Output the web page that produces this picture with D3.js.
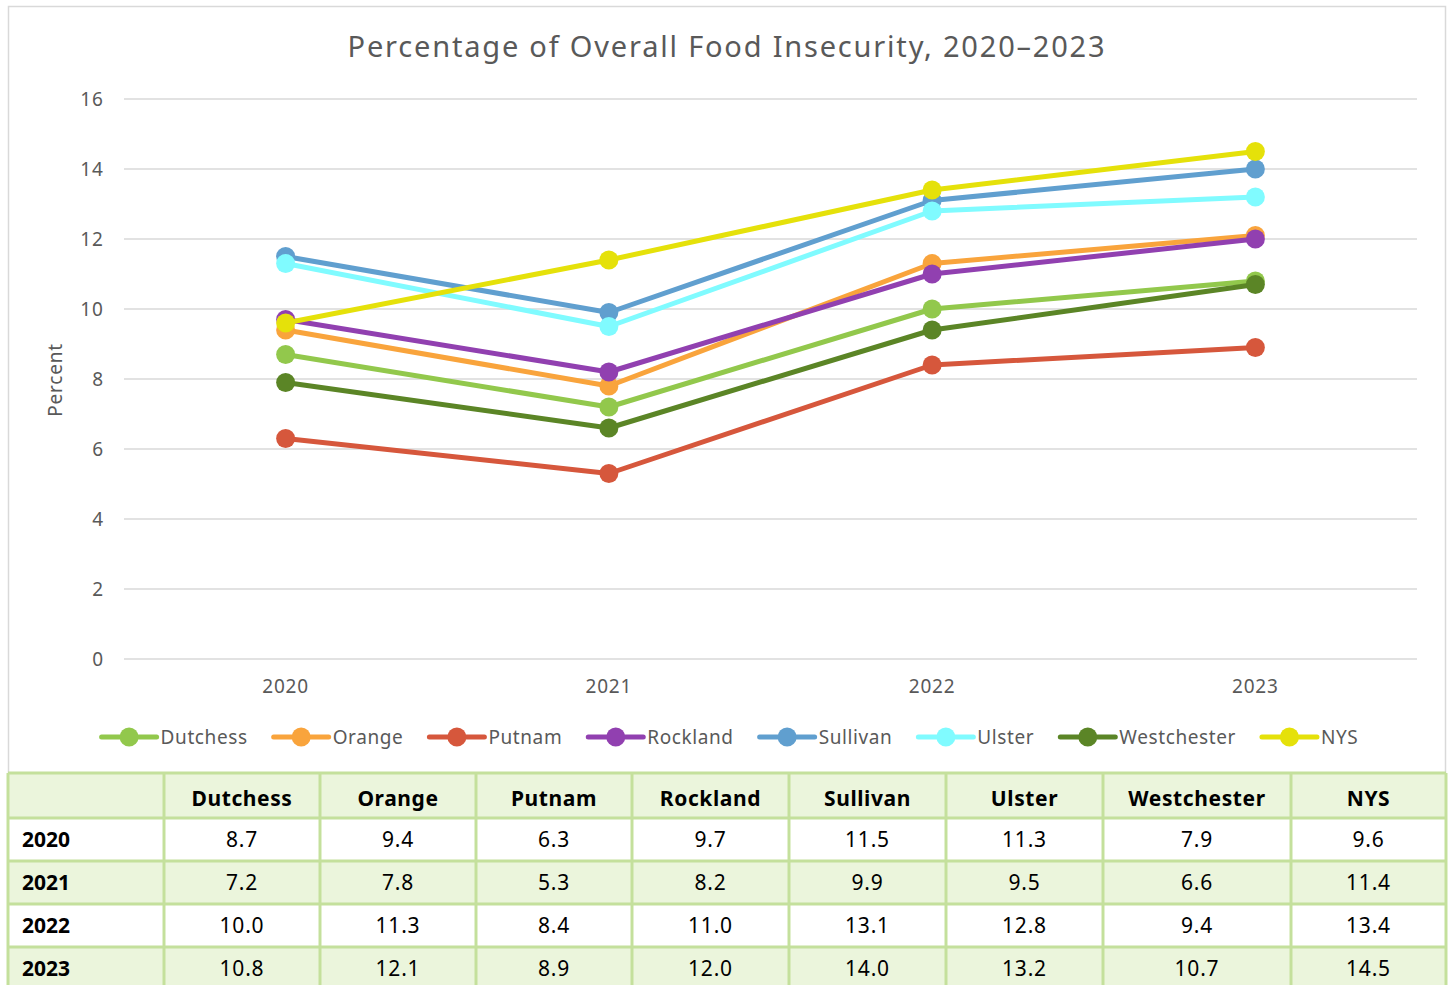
<!DOCTYPE html>
<html>
<head>
<meta charset="utf-8">
<script src="https://cdn.jsdelivr.net/npm/d3@7/dist/d3.min.js"></script>
<style>
  body { margin: 0; background: #fff; }
  svg { display: block; font-family: "Noto Sans", "Open Sans", sans-serif; }
</style>
</head>
<body>
<svg id="chart" width="1450" height="985"></svg>
<script>
// Years on the category axis
const years = ["2020", "2021", "2022", "2023"];

// Counties plus the state total
const regions = ["Dutchess", "Orange", "Putnam", "Rockland", "Sullivan", "Ulster", "Westchester", "NYS"];

// One value per year for each region
const dutchess = [8.7, 7.2, 10.0, 10.8];
const orange = [9.4, 7.8, 11.3, 12.1];
const putnam = [6.3, 5.3, 8.4, 8.9];
const rockland = [9.7, 8.2, 11.0, 12.0];
const sullivan = [11.5, 9.9, 13.1, 14.0];
const ulster = [11.3, 9.5, 12.8, 13.2];
const westchester = [7.9, 6.6, 9.4, 10.7];
const nys = [9.6, 11.4, 13.4, 14.5];

const yTicks = [0, 2, 4, 6, 8, 10, 12, 14, 16];

const colors = ["#92c84c", "#f9a43c", "#d6573c", "#9140b0", "#609fcf", "#80fbff", "#5b8526", "#e5e10a"];

const series = regions.map((name, i) => ({
  name,
  color: colors[i],
  values: [dutchess, orange, putnam, rockland, sullivan, ulster, westchester, nys][i]
}));

const svg = d3.select("#chart");
const textColor = "#595959";

// Chart frame
svg.append("rect")
  .attr("x", 8.5).attr("y", 6.5)
  .attr("width", 1437).attr("height", 780)
  .attr("fill", "#fff")
  .attr("stroke", "#d9d9d9").attr("stroke-width", 1.5);

// Title
svg.append("text")
  .attr("x", 727).attr("y", 57)
  .attr("text-anchor", "middle")
  .attr("font-size", 29)
  .attr("letter-spacing", 1.8)
  .attr("fill", textColor)
  .text("Percentage of Overall Food Insecurity, 2020\u20132023");

// Scales
const x = d3.scaleBand().domain(years).range([124, 1417]);
const y = d3.scaleLinear().domain([0, 16]).range([659, 99]);
const cx = (d) => x(d) + x.bandwidth() / 2;

// Gridlines
svg.append("g")
  .selectAll("line")
  .data(yTicks)
  .join("line")
  .attr("x1", 124).attr("x2", 1417)
  .attr("y1", (d) => y(d)).attr("y2", (d) => y(d))
  .attr("stroke", "#d9d9d9").attr("stroke-width", 1.5);

// Y axis labels
svg.append("g")
  .selectAll("text")
  .data(yTicks)
  .join("text")
  .attr("x", 104).attr("y", (d) => y(d))
  .attr("dy", "0.35em")
  .attr("text-anchor", "end")
  .attr("font-size", 19)
  .attr("letter-spacing", 1)
  .attr("fill", textColor)
  .text((d) => d);

// X axis labels
svg.append("g")
  .selectAll("text")
  .data(years)
  .join("text")
  .attr("x", (d) => cx(d)).attr("y", 686)
  .attr("dy", "0.35em")
  .attr("text-anchor", "middle")
  .attr("font-size", 19)
  .attr("letter-spacing", 0.8)
  .attr("fill", textColor)
  .text((d) => d);

// Y axis title
svg.append("text")
  .attr("transform", "translate(62,380) rotate(-90)")
  .attr("text-anchor", "middle")
  .attr("font-size", 19)
  .attr("letter-spacing", 0.8)
  .attr("fill", textColor)
  .text("Percent");

// Lines and markers
const line = d3.line()
  .x((d, i) => cx(years[i]))
  .y((d) => y(d));

const groups = svg.append("g")
  .selectAll("g")
  .data(series)
  .join("g");

groups.append("path")
  .attr("d", (d) => line(d.values))
  .attr("fill", "none")
  .attr("stroke", (d) => d.color)
  .attr("stroke-width", 5)
  .attr("stroke-linejoin", "round");

groups.selectAll("circle")
  .data((d) => d.values.map((v, i) => ({ v, i, color: d.color })))
  .join("circle")
  .attr("cx", (d) => cx(years[d.i]))
  .attr("cy", (d) => y(d.v))
  .attr("r", 9.5)
  .attr("fill", (d) => d.color);

// Legend
const legend = svg.append("g");
const items = legend.selectAll("g")
  .data(series)
  .join("g");

items.append("line")
  .attr("x1", 0).attr("x2", 55)
  .attr("y1", 0).attr("y2", 0)
  .attr("stroke", (d) => d.color)
  .attr("stroke-width", 5)
  .attr("stroke-linecap", "round");

items.append("circle")
  .attr("cx", 27.5).attr("cy", 0).attr("r", 9.5)
  .attr("fill", (d) => d.color);

items.append("text")
  .attr("x", 59).attr("y", 0)
  .attr("dy", "0.35em")
  .attr("font-size", 19)
  .attr("letter-spacing", 0.6)
  .attr("fill", textColor)
  .text((d) => d.name);

// Place legend items side by side, centered on the frame
let offset = 0;
const widths = [];
items.each(function () {
  widths.push(this.getBBox().width);
});
const gap = 26;
const total = d3.sum(widths) + gap * (widths.length - 1);
const start = 730 - total / 2;
items.attr("transform", (d, i) => {
  const tx = start + offset;
  offset += widths[i] + gap;
  return `translate(${tx},737)`;
});

// Data table
const colEdges = [8, 164, 320, 476, 632, 789, 946, 1103, 1291, 1446];
const rowEdges = [773, 818, 861, 904, 947, 990];
const tableBorder = "#c4e09c";
const lightFill = "#ebf5dc";

const table = svg.append("g");

// Row fills: header and odd data rows are tinted
table.selectAll("rect.row")
  .data(d3.range(rowEdges.length - 1))
  .join("rect")
  .attr("class", "row")
  .attr("x", colEdges[0]).attr("y", (i) => rowEdges[i])
  .attr("width", colEdges[colEdges.length - 1] - colEdges[0])
  .attr("height", (i) => rowEdges[i + 1] - rowEdges[i])
  .attr("fill", (i) => (i % 2 === 0 ? lightFill : "#ffffff"));

// Grid lines
table.selectAll("line.h")
  .data(rowEdges)
  .join("line")
  .attr("class", "h")
  .attr("x1", colEdges[0]).attr("x2", colEdges[colEdges.length - 1])
  .attr("y1", (d) => d).attr("y2", (d) => d)
  .attr("stroke", tableBorder).attr("stroke-width", 3);

table.selectAll("line.v")
  .data(colEdges)
  .join("line")
  .attr("class", "v")
  .attr("x1", (d) => d).attr("x2", (d) => d)
  .attr("y1", rowEdges[0]).attr("y2", 990)
  .attr("stroke", tableBorder).attr("stroke-width", 3);

const colCenter = (j) => (colEdges[j + 1] + colEdges[j + 2]) / 2;
const rowCenter = (i) => (rowEdges[i] + rowEdges[i + 1]) / 2;

// Header
table.selectAll("text.head")
  .data(regions)
  .join("text")
  .attr("class", "head")
  .attr("x", (d, j) => colCenter(j))
  .attr("y", rowCenter(0) + 3)
  .attr("dy", "0.35em")
  .attr("text-anchor", "middle")
  .attr("font-size", 21)
  .attr("font-weight", "bold")
  .attr("letter-spacing", 0.6)
  .attr("fill", "#000")
  .text((d) => d);

// Year labels
table.selectAll("text.year")
  .data(years)
  .join("text")
  .attr("class", "year")
  .attr("x", 22)
  .attr("y", (d, i) => rowCenter(i + 1))
  .attr("dy", "0.35em")
  .attr("font-size", 21)
  .attr("font-weight", "bold")
  .attr("fill", "#000")
  .text((d) => d);

// Values
const cells = [];
series.forEach((s, j) => {
  s.values.forEach((v, i) => cells.push({ v, i, j }));
});

table.selectAll("text.val")
  .data(cells)
  .join("text")
  .attr("class", "val")
  .attr("x", (d) => colCenter(d.j))
  .attr("y", (d) => rowCenter(d.i + 1))
  .attr("dy", "0.35em")
  .attr("text-anchor", "middle")
  .attr("font-size", 21)
  .attr("letter-spacing", 0.8)
  .attr("fill", "#000")
  .text((d) => d.v.toFixed(1));
</script>
</body>
</html>
